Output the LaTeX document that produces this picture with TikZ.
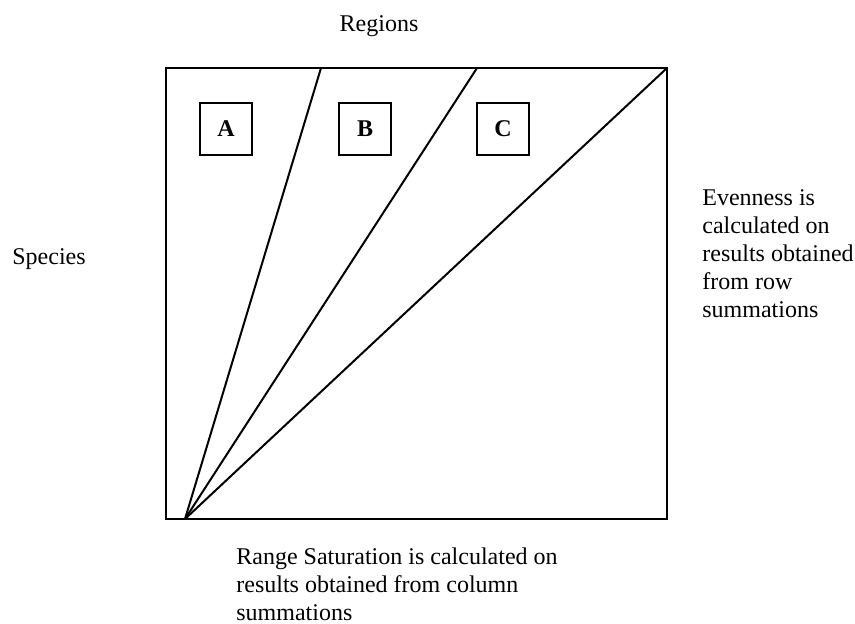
\documentclass[tikz,border=0pt]{standalone}
\usepackage{fontspec}
\setmainfont{Liberation Serif}
\usepackage{tikz}
\usetikzlibrary{positioning,calc}

\begin{document}
\begin{tikzpicture}[x=0.5pt, y=-0.5pt,
    regionbox/.style={draw, line width=0.7pt, minimum size=26pt, inner sep=0pt, font=\fontsize{12}{14}\selectfont\bfseries},
    note/.style={align=left, inner sep=0pt, font=\fontsize{12}{14}\selectfont}]
    \useasboundingbox (0, 0) rectangle (855, 624);
    \coordinate (tl) at (166, 68);
    \coordinate (br) at (667, 519);
    \coordinate (apex) at (185, 519);
    \draw[line width=1pt] (tl) rectangle (br);
    \draw[line width=1pt] (apex) -- (321, 68);
    \draw[line width=1pt] (apex) -- (477, 68);
    \draw[line width=1pt] (apex) -- (667, 68);
    \node[regionbox] (A) at (226, 129) {A};
    \node[regionbox] (B) at (365, 129) {B};
    \node[regionbox] (C) at (503, 129) {C};
    \node[note, anchor=base] (regions) at (379, 32) {Regions};
    \node[note, anchor=base west] (species) at (12, 265) {Species};
    \node[note, anchor=north west] (evenness) at (702, 189) {Evenness is\\calculated on\\results obtained\\from row\\summations};
    \node[note, anchor=north west] (range) at (236, 547) {Range Saturation is calculated on\\results obtained from column\\summations};
\end{tikzpicture}
\end{document}
